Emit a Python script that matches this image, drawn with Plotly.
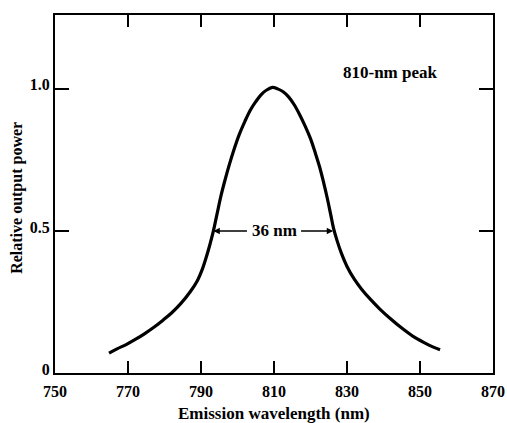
import plotly.graph_objects as go

# emission spectrum
wavelength = [764.8, 767, 769.5, 772, 774.5, 777, 779.5, 782, 784.5, 787, 789, 790.5, 791.5,
              792.5, 793.4, 794.4, 795.5, 796.6, 797.8, 799, 800.5, 802, 803.5, 805, 806.5,
              808, 809.6, 811, 812.5, 814, 815.5, 817, 818.5, 820, 821.3, 822.5, 823.6, 824.6,
              825.5, 826.3, 827.3, 828.5, 830, 832, 834, 836.5, 839, 842, 845, 848, 851, 853.5, 855.5]
power = [0.07, 0.085, 0.10, 0.118, 0.138, 0.16, 0.185, 0.212, 0.245, 0.285, 0.325, 0.37, 0.41,
         0.455, 0.5, 0.56, 0.625, 0.68, 0.735, 0.785, 0.84, 0.885, 0.925, 0.955, 0.98,
         0.996, 1.005, 1.0, 0.99, 0.972, 0.945, 0.91, 0.87, 0.825, 0.775, 0.725, 0.67, 0.615,
         0.56, 0.51, 0.465, 0.42, 0.375, 0.33, 0.295, 0.258, 0.225, 0.19, 0.158, 0.13, 0.108, 0.092, 0.082]

x_ticks = [750, 770, 790, 810, 830, 850, 870]
y_ticks = [0, 0.5, 1.0]
y_tick_text = ["0", "0.5", "1.0"]

fwhm_left, fwhm_right, fwhm_level = 793.4, 826.2, 0.5

font = "Liberation Serif"

fig = go.Figure()
fig.add_trace(go.Scatter(
    x=wavelength, y=power, mode="lines",
    line=dict(color="black", width=3.2, shape="spline", smoothing=1.0),
    hoverinfo="skip", showlegend=False,
))

# FWHM arrows and label
fig.add_annotation(x=fwhm_left, y=fwhm_level, ax=803.0, ay=fwhm_level,
                   xref="x", yref="y", axref="x", ayref="y", text="",
                   showarrow=True, arrowhead=2, arrowsize=0.8, arrowwidth=1.6, arrowcolor="black")
fig.add_annotation(x=fwhm_right, y=fwhm_level, ax=817.0, ay=fwhm_level,
                   xref="x", yref="y", axref="x", ayref="y", text="",
                   showarrow=True, arrowhead=2, arrowsize=0.8, arrowwidth=1.6, arrowcolor="black")
fig.add_annotation(x=810, y=fwhm_level, xref="x", yref="y", text="<b>36 nm</b>",
                   showarrow=False, font=dict(family=font, size=17, color="black"))
fig.add_annotation(x=842, y=1.056, xref="x", yref="y", text="<b>810-nm peak</b>",
                   showarrow=False, font=dict(family=font, size=17, color="black"))

# axis titles placed by hand so margins stay fixed
fig.add_annotation(x=0.5, y=-0.112, xref="paper", yref="paper", text="<b>Emission wavelength (nm)</b>",
                   showarrow=False, xanchor="center", yanchor="middle",
                   font=dict(family=font, size=17, color="black"))
fig.add_annotation(x=-0.087, y=0.489, xref="paper", yref="paper", text="<b>Relative output power</b>",
                   showarrow=False, textangle=-90, xanchor="center", yanchor="middle",
                   font=dict(family=font, size=16, color="black"))

tick_font = dict(family=font, size=16, weight="bold")

fig.update_layout(
    width=507, height=423,
    margin=dict(l=55, r=14, t=15, b=50),
    paper_bgcolor="white", plot_bgcolor="white",
    font=dict(family=font, color="black"),
    xaxis=dict(
        range=[750, 870], tickvals=x_ticks, ticks="inside", ticklen=12, tickwidth=2,
        tickcolor="black", showline=True, linecolor="black", linewidth=2, mirror="ticks",
        showgrid=False, zeroline=False, automargin=False, tickfont=tick_font,
        ticklabelstandoff=3,
    ),
    yaxis=dict(
        range=[0, 1.26], tickvals=y_ticks, ticktext=y_tick_text, ticks="inside", ticklen=14,
        tickwidth=2, tickcolor="black", showline=True, linecolor="black", linewidth=2,
        mirror="ticks", showgrid=False, zeroline=False, automargin=False, tickfont=tick_font,
        ticklabelshift=-4,
    ),
)

# drop the default page margin so the 507x423 figure fills the window
fig.write_html("out.html", config={"displayModeBar": False},
               post_script="document.body.style.margin='0';document.body.style.overflow='hidden';")
